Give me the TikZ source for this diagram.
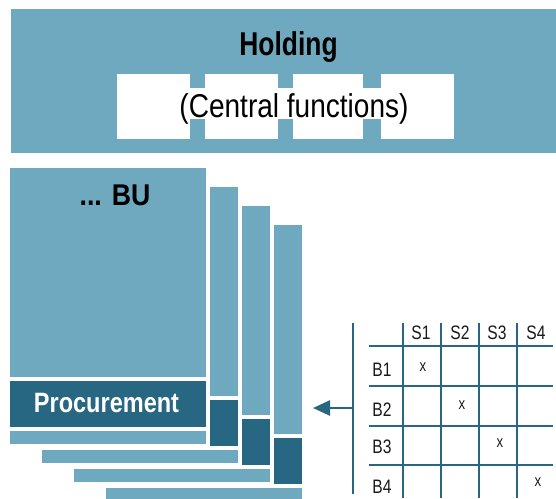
\documentclass[tikz,border=0pt]{standalone}
\usepackage{fontspec}
\setmainfont{Liberation Sans}
\usetikzlibrary{arrows.meta}
\definecolor{lightb}{RGB}{111,169,192}
\definecolor{darkb}{RGB}{39,103,130}
\definecolor{txt}{RGB}{25,25,25}
\tikzset{
  grid line/.style={draw=darkb, line width=2.5pt},
  tabtxt/.style={anchor=base, inner sep=0pt, text=txt, font=\fontsize{19.5}{21}\selectfont},
  xmark/.style={anchor=center, inner sep=0pt, text=txt, font=\fontsize{16.5}{18}\selectfont},
}
\begin{document}
\begin{tikzpicture}[x=1pt,y=-1pt]
\useasboundingbox (0,0) rectangle (556,498);
\clip (0,0) rectangle (556,498);
% Holding
\fill[lightb] (11,9) rectangle (556,153);
\foreach \a/\b in {117/190,205/278,293/363,381/454}{
  \fill[white] (\a,74) rectangle (\b,139);
}
\fill[white] (180,88) rectangle (408,119);
\node[anchor=base, inner sep=0pt] (hold) at (288.5,55)
  {\fontsize{33}{36}\selectfont\bfseries\scalebox{0.8}[1]{Holding}};
\node[anchor=base, inner sep=0pt] (central) at (294,117)
  {\fontsize{33}{36}\selectfont\scalebox{0.85}[1]{(Central functions)}};
% BU layers
\foreach \k in {3,2,1,0}{
  \begin{scope}[shift={(32*\k,19*\k)}]
    \fill[white] (6,164) rectangle (210,448);
    \fill[lightb] (10,168) rectangle (206,377);
    \fill[darkb] (10,381) rectangle (206,427);
    \fill[lightb] (10,431) rectangle (206,444);
  \end{scope}
}
\node[anchor=base, inner sep=0pt] (bu) at (115,205)
  {\fontsize{30}{33}\selectfont\bfseries\scalebox{0.89}[1]{... BU}};
\node[anchor=base, inner sep=0pt, text=white] (proc) at (106.5,412)
  {\fontsize{28}{31}\selectfont\bfseries\scalebox{0.84}[1]{Procurement}};
% table
\coordinate (septop) at (353,323);
\coordinate (sepbot) at (353,494);
\coordinate (sep) at (353,408);
\coordinate (tip) at (313,408);
\draw[grid line] (septop) -- (sepbot);
\draw[grid line, -{Triangle[length=17pt,width=15pt]}] (sep) -- (tip);
\foreach \y in {346,386,426,465}{
  \draw[grid line] (369,\y) -- (553,\y);
}
\foreach \x in {403,441,479,517}{
  \draw[grid line] (\x,323) -- (\x,498);
}
\node[tabtxt] (s1) at (421,339) {\scalebox{0.8}[1]{S1}};
\node[tabtxt] (s2) at (460,339) {\scalebox{0.8}[1]{S2}};
\node[tabtxt] (s3) at (497,339) {\scalebox{0.8}[1]{S3}};
\node[tabtxt] (s4) at (536,339) {\scalebox{0.8}[1]{S4}};
\node[tabtxt] (b1) at (382,376) {\scalebox{0.8}[1]{B1}};
\node[tabtxt] (b2) at (382,416) {\scalebox{0.8}[1]{B2}};
\node[tabtxt] (b3) at (382,453) {\scalebox{0.8}[1]{B3}};
\node[tabtxt] (b4) at (382,493) {\scalebox{0.8}[1]{B4}};
\node[xmark] (x1) at (423,367) {\scalebox{0.8}[1]{x}};
\node[xmark] (x2) at (462,405) {\scalebox{0.8}[1]{x}};
\node[xmark] (x3) at (500,443) {\scalebox{0.8}[1]{x}};
\node[xmark] (x4) at (538,482) {\scalebox{0.8}[1]{x}};
\end{tikzpicture}
\end{document}
